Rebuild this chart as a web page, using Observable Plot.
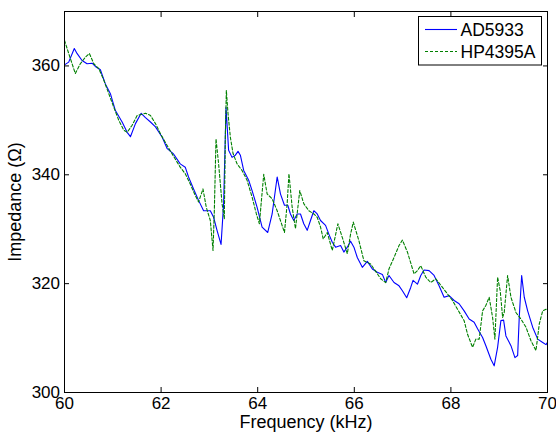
<!DOCTYPE html>
<html><head><meta charset="utf-8">
<script src="https://cdn.jsdelivr.net/npm/d3@7"></script>
<script src="https://cdn.jsdelivr.net/npm/@observablehq/plot@0.6"></script>
<style>body{margin:0;background:#fff} svg{display:block}</style>
</head><body><div id="chart"></div>
<script>
const seriesNames = ["AD5933", "HP4395A"];
const xTicks = [60, 62, 64, 66, 68, 70];
const yTicks = [300, 320, 340, 360];

const adFreq = [60.000,60.087,60.203,60.259,60.363,60.467,60.571,60.639,60.743,60.846,60.950,61.054,61.193,61.297,61.365,61.469,61.587,61.676,61.780,61.884,62.023,62.127,62.251,62.396,62.500,62.568,62.672,62.776,62.880,63.019,63.087,63.158,63.241,63.295,63.344,63.398,63.469,63.537,63.593,63.641,63.710,63.813,63.884,63.988,64.091,64.208,64.299,64.403,64.471,64.554,64.623,64.678,64.747,64.817,64.886,64.954,65.025,65.093,65.162,65.232,65.301,65.405,65.473,65.544,65.612,65.716,65.784,65.855,65.923,65.992,66.062,66.166,66.270,66.374,66.477,66.581,66.650,66.718,66.822,66.926,66.996,67.085,67.168,67.216,67.307,67.376,67.444,67.548,67.652,67.755,67.859,67.963,68.067,68.170,68.274,68.378,68.481,68.552,68.656,68.724,68.828,68.896,68.967,69.035,69.091,69.139,69.243,69.326,69.382,69.415,69.465,69.519,69.589,69.693,69.797,69.901,69.969,70.000];
const adZ = [360.2,360.7,363.2,362.3,361.0,360.4,360.5,359.9,359.3,356.7,354.9,351.8,349.7,347.8,347.0,349.4,351.3,350.5,349.7,348.8,346.9,344.8,343.9,342.0,341.4,339.6,337.4,335.3,333.4,333.4,332.2,329.8,327.2,334.7,352.4,344.5,343.2,343.6,344.3,343.6,340.8,339.0,337.1,334.0,330.4,329.4,332.8,339.6,336.5,334.4,334.4,332.8,331.6,332.8,332.8,331.0,329.8,331.6,333.4,332.8,331.6,330.7,329.1,327.6,326.7,327.0,325.8,326.7,327.8,326.7,324.8,323.0,324.1,322.7,322.1,321.7,320.2,321.5,320.2,319.6,318.7,317.4,319.3,320.6,319.9,321.5,322.5,322.4,321.5,319.6,317.5,317.8,316.9,316.3,315.0,313.5,312.9,311.7,310.1,308.6,306.1,304.9,308.3,313.2,313.3,310.4,308.6,306.4,306.8,313.8,321.5,317.5,315.0,312.0,309.8,309.2,308.8,309.2];

const hpFreq = [60.000,60.087,60.224,60.328,60.432,60.515,60.606,60.710,60.813,60.917,61.021,61.124,61.228,61.297,61.400,61.504,61.676,61.780,61.884,61.988,62.162,62.396,62.500,62.604,62.707,62.776,62.867,62.936,63.019,63.075,63.102,63.137,63.191,63.262,63.309,63.330,63.351,63.386,63.434,63.490,63.573,63.676,63.780,63.884,63.973,64.035,64.077,64.125,64.195,64.299,64.403,64.471,64.554,64.610,64.647,64.714,64.782,64.871,64.954,65.058,65.162,65.232,65.301,65.357,65.440,65.544,65.660,65.751,65.855,65.923,65.979,66.095,66.199,66.338,66.477,66.546,66.650,66.718,66.822,66.926,66.996,67.100,67.237,67.307,67.376,67.479,67.583,67.687,67.826,67.930,68.033,68.137,68.274,68.345,68.448,68.517,68.586,68.656,68.724,68.793,68.863,68.911,68.967,69.021,69.071,69.104,69.174,69.243,69.347,69.450,69.554,69.658,69.761,69.830,69.900,69.969,70.000];
const hpZ = [364.7,362.3,358.6,360.4,361.6,362.3,360.4,359.5,357.4,354.9,352.4,350.0,348.2,347.8,349.1,350.9,351.3,350.9,349.4,347.5,344.8,341.4,340.2,338.3,336.2,335.0,337.4,334.0,331.6,326.1,333.4,346.6,342.0,334.7,331.9,346.9,355.5,351.2,346.9,343.9,342.0,340.8,339.0,335.9,332.8,331.0,335.3,340.1,336.5,335.6,333.4,331.6,329.4,334.7,340.2,334.0,330.1,337.1,334.7,333.4,332.8,332.2,330.4,328.2,329.4,326.1,331.0,328.5,325.5,329.1,331.3,327.9,324.2,323.6,321.8,320.9,320.2,322.7,324.8,327.0,328.0,325.8,321.8,322.4,323.3,321.2,320.2,320.9,319.3,318.1,316.9,315.3,313.2,310.7,308.3,309.8,309.8,315.0,316.0,317.5,313.8,309.8,321.2,318.7,313.8,314.7,321.5,317.5,314.7,313.5,312.0,309.5,307.7,312.6,315.0,315.3,315.3];

const xLabel = "Frequency (kHz)";
const yLabel = "Impedance (Ω)";

const adData = adFreq.map((f, i) => ({f, z: adZ[i]}));
const hpData = hpFreq.map((f, i) => ({f, z: hpZ[i]}));

const colors = ["#0000ff", "#008000"];
const font = "'Liberation Sans', Arial, sans-serif";

const chart = Plot.plot({
  width: 556,
  height: 435,
  marginLeft: 64,
  marginRight: 9,
  marginTop: 11,
  marginBottom: 43,
  style: {fontFamily: font, fontSize: "17px", background: "white", color: "black"},
  x: {domain: [60, 70]},
  y: {domain: [300, 370]},
  marks: [
    Plot.line(adData, {x: "f", y: "z", stroke: colors[0], strokeWidth: 1.1}),
    Plot.line(hpData, {x: "f", y: "z", stroke: colors[1], strokeWidth: 1.1, strokeDasharray: "3,2"}),
    Plot.frame({stroke: "black", strokeWidth: 1}),
    Plot.axisX(xTicks, {anchor: "bottom", tickSize: -5, tickPadding: 9, label: null, fontSize: 17}),
    Plot.axisX(xTicks, {anchor: "top", tickSize: -5, tickFormat: () => "", label: null}),
    Plot.axisY(yTicks, {anchor: "left", tickSize: -5, tickPadding: 9.5, label: null, fontSize: 17}),
    Plot.axisY(yTicks, {anchor: "right", tickSize: -5, tickFormat: () => "", label: null}),
    Plot.text([xLabel], {frameAnchor: "bottom", lineAnchor: "bottom", textAnchor: "middle", dy: 35, fontSize: 18, text: d => d}),
    Plot.text([yLabel], {frameAnchor: "left", lineAnchor: "middle", textAnchor: "middle", dx: -49, rotate: -90, fontSize: 18, text: d => d})
  ]
});

document.getElementById("chart").appendChild(chart);

// legend
const svg = d3.select(chart);
const lg = svg.append("g").attr("font-family", font).attr("font-size", 17.5).attr("text-anchor", "start");
lg.append("rect").attr("x", 418.5).attr("y", 16.5).attr("width", 123).attr("height", 48.5)
  .attr("fill", "white").attr("stroke", "black").attr("stroke-width", 1);
const rows = [29.5, 51.5];
seriesNames.forEach((name, i) => {
  lg.append("line").attr("x1", 425).attr("x2", 457).attr("y1", rows[i]).attr("y2", rows[i])
    .style("stroke", colors[i]).attr("stroke-width", 1.1)
    .attr("stroke-dasharray", i === 1 ? "3,2" : null);
  lg.append("text").attr("x", 460.5).attr("y", rows[i]).attr("dy", "0.35em")
    .attr("text-anchor", "start").attr("fill", "black").text(name);
});
</script>
</body></html>
